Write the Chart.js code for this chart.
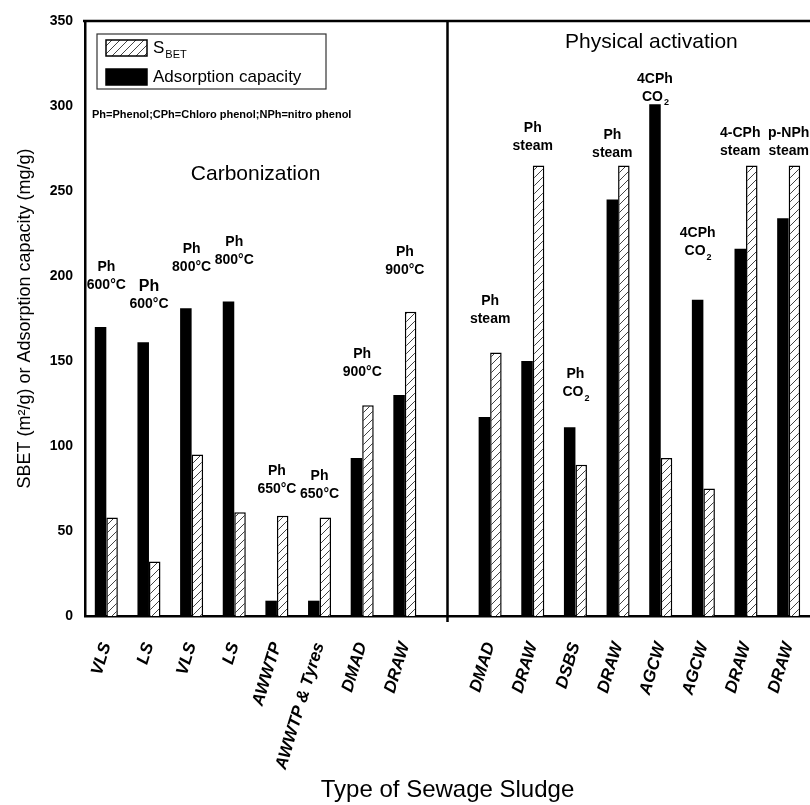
<!DOCTYPE html>
<html>
<head>
<meta charset="utf-8">
<script src="https://cdn.jsdelivr.net/npm/chart.js@4.4.1/dist/chart.umd.min.js"></script>
<style>
  html, body { margin: 0; padding: 0; background: #fff; }
</style>
</head>
<body>
<canvas id="sludgeChart" width="810" height="805"></canvas>
<script>
// carbonization first, the empty label is the gap before physical activation
const sludgeTypes = ['VLS', 'LS', 'VLS', 'LS', 'AWWTP', 'AWWTP & Tyres', 'DMAD', 'DRAW', '',
                     'DMAD', 'DRAW', 'DSBS', 'DRAW', 'AGCW', 'AGCW', 'DRAW', 'DRAW'];
const adsorptionCapacity = [170, 161, 181, 185, 9, 9, 93, 130, null,
                            117, 150, 111, 245, 301, 186, 216, 234];
const sbet = [58, 32, 95, 61, 59, 58, 124, 179, null,
              155, 265, 89, 265, 93, 75, 265, 265];

// text over each pair ("_" starts a subscript) and the height of its first line
const pairNotes = [['Ph', '600°C'], ['Ph', '600°C'], ['Ph', '800°C'], ['Ph', '800°C'],
                   ['Ph', '650°C'], ['Ph', '650°C'], ['Ph', '900°C'], ['Ph', '900°C'], null,
                   ['Ph', 'steam'], ['Ph', 'steam'], ['Ph', 'CO_2'], ['Ph', 'steam'],
                   ['4CPh', 'CO_2'], ['4CPh', 'CO_2'], ['4-CPh', 'steam'], ['p-NPh', 'steam']];
const noteHeights = [205, 194, 216, 220, 85, 82, 154, 214, null,
                     185, 287, 142, 283, 316, 225, 284, 284];
// these notes sit over the black bar rather than the middle of the pair
const notesOverBlack = [12, 13, 14, 15];

const sectionTitles = ['Carbonization', 'Physical activation'];
const abbreviations = 'Ph=Phenol;CPh=Chloro phenol;NPh=nitro phenol';

const FONT = "'Liberation Sans', Arial, sans-serif";
Chart.defaults.font.family = FONT;
Chart.defaults.color = '#000';

// white fill with "/" lines for the SBET bars
function makeHatch(ctx) {
    let c = document.createElement('canvas');
    c.width = 8; c.height = 8;
    let g = c.getContext('2d');
    g.fillStyle = '#fff';
    g.fillRect(0, 0, 8, 8);
    g.strokeStyle = '#444';
    g.lineWidth = 1;
    g.beginPath();
    g.moveTo(-1, 9); g.lineTo(9, -1);
    g.stroke();
    return ctx.createPattern(c, 'repeat');
}

// draws "CO_2" style text: part after "_" smaller and lower
function drawRich(ctx, text, x, y, size, weight, align) {
    let parts = text.split('_');
    let main = parts[0], sub = parts[1] || '';
    let subSize = Math.round(size * 0.62);
    ctx.font = weight + ' ' + size + 'px ' + FONT;
    let w1 = ctx.measureText(main).width;
    ctx.font = weight + ' ' + subSize + 'px ' + FONT;
    let w2 = sub ? ctx.measureText(sub).width : 0;
    let start = align === 'center' ? x - (w1 + w2) / 2 : x;
    ctx.textAlign = 'left';
    ctx.textBaseline = 'middle';
    ctx.font = weight + ' ' + size + 'px ' + FONT;
    ctx.fillText(main, start, y);
    if (sub) {
        ctx.font = weight + ' ' + subSize + 'px ' + FONT;
        ctx.fillText(sub, start + w1 + 1, y + size * 0.42);
    }
}

const framePlugin = {
    id: 'frame',
    afterDraw(chart) {
        const ctx = chart.ctx;
        const a = chart.chartArea;
        const xs = chart.scales.x, ys = chart.scales.y;
        ctx.save();
        ctx.strokeStyle = '#000';
        ctx.lineWidth = 2.5;
        // top line and the divider between the two sections
        ctx.beginPath();
        ctx.moveTo(a.left - 2, a.top);
        ctx.lineTo(a.right, a.top);
        let gapX = xs.getPixelForValue(8);
        ctx.moveTo(gapX, a.top);
        ctx.lineTo(gapX, a.bottom + 6);
        ctx.stroke();

        // section titles
        ctx.fillStyle = '#000';
        ctx.textAlign = 'center';
        ctx.textBaseline = 'middle';
        ctx.font = '21px ' + FONT;
        let leftMid = (xs.getPixelForValue(0) + xs.getPixelForValue(7)) / 2;
        let rightMid = (xs.getPixelForValue(9) + xs.getPixelForValue(16)) / 2 + 12;
        ctx.fillText(sectionTitles[0], leftMid, ys.getPixelForValue(260));
        ctx.fillText(sectionTitles[1], rightMid, ys.getPixelForValue(337.5));

        ctx.font = 'bold 11px ' + FONT;
        ctx.textAlign = 'left';
        ctx.fillText(abbreviations, a.left + 7, ys.getPixelForValue(294.5));

        // notes over the bars
        const blackBars = chart.getDatasetMeta(0).data;
        pairNotes.forEach((note, i) => {
            if (!note) return;
            let x = notesOverBlack.includes(i) ? blackBars[i].x : xs.getPixelForValue(i);
            let y = ys.getPixelForValue(noteHeights[i]);
            drawRich(ctx, note[0], x, y, i === 1 ? 16 : 14, 'bold', 'center');
            drawRich(ctx, note[1], x, y + 18, 14, 'bold', 'center');
        });

        // legend box
        let lx = a.left + 12, ly = a.top + 13;
        ctx.lineWidth = 1.2;
        ctx.strokeStyle = '#333';
        ctx.strokeRect(lx, ly, 229, 55);
        let items = [chart.data.datasets[1], chart.data.datasets[0]];
        items.forEach((ds, k) => {
            let sy = ly + 6 + k * 29;
            ctx.fillStyle = ds.backgroundColor;
            ctx.fillRect(lx + 9, sy, 41, 16);
            ctx.strokeStyle = '#000';
            ctx.lineWidth = 1.5;
            ctx.strokeRect(lx + 9, sy, 41, 16);
            ctx.fillStyle = '#000';
            drawRich(ctx, ds.label, lx + 56, sy + 8, 17, 'normal', 'left');
        });
        ctx.restore();
    }
};

const ctx = document.getElementById('sludgeChart').getContext('2d');
const hatch = makeHatch(ctx);

new Chart(ctx, {
    type: 'bar',
    data: {
        labels: sludgeTypes,
        datasets: [{
            label: 'Adsorption capacity',
            data: adsorptionCapacity,
            backgroundColor: '#000',
            borderWidth: 0
        }, {
            label: 'S_BET',
            data: sbet,
            backgroundColor: hatch,
            borderColor: '#000',
            borderWidth: 1.5
        }]
    },
    options: {
        responsive: false,
        animation: false,
        devicePixelRatio: 1,
        categoryPercentage: 0.54,
        barPercentage: 1,
        layout: { padding: { top: 21, right: 0, left: 0, bottom: 0 } },
        plugins: {
            legend: { display: false },
            tooltip: { enabled: false }
        },
        scales: {
            x: {
                grid: { display: false, drawTicks: false },
                border: { display: true, color: '#000', width: 2.5 },
                ticks: {
                    autoSkip: false,
                    minRotation: 73,
                    maxRotation: 73,
                    padding: 24,
                    color: '#000',
                    font: { size: 17, weight: 'bold', style: 'italic' }
                },
                title: {
                    display: true,
                    text: 'Type of Sewage Sludge',
                    color: '#000',
                    font: { size: 24 },
                    padding: { top: 0, bottom: 0 }
                },
                afterFit(scale) {
                    scale.height = 189;
                    scale.paddingLeft = 0;
                    scale.paddingRight = 0;
                }
            },
            y: {
                min: 0,
                max: 350,
                grid: { display: false, drawTicks: false },
                border: { display: true, color: '#000', width: 2.5 },
                ticks: {
                    stepSize: 50,
                    padding: 12,
                    color: '#000',
                    font: { size: 14, weight: 'bold' }
                },
                title: {
                    display: true,
                    text: 'SBET (m²/g) or Adsorption capacity (mg/g)',
                    color: '#000',
                    font: { size: 18 },
                    padding: { top: 14, bottom: 0 }
                },
                afterFit(scale) {
                    scale.width = 85;
                    scale.paddingTop = 0;
                    scale.paddingBottom = 0;
                }
            }
        }
    },
    plugins: [framePlugin]
});
</script>
</body>
</html>
